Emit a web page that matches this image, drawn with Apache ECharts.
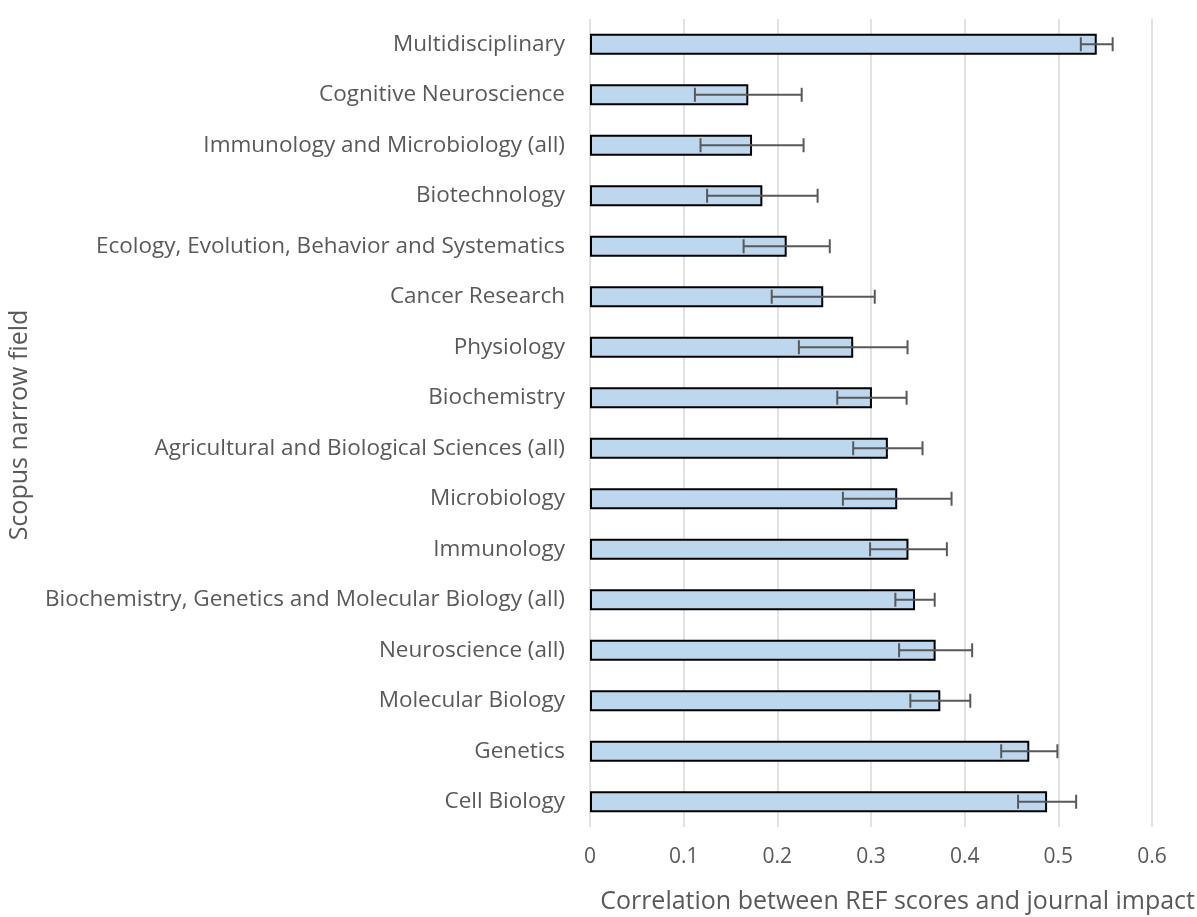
<!DOCTYPE html>
<html><head><meta charset="utf-8">
<script src="https://cdn.jsdelivr.net/npm/echarts@6/dist/echarts.min.js"></script>
<style>html,body{margin:0;padding:0;background:#fff}#c{width:1197px;height:917px}</style>
</head><body><div id="c"></div>
<script>
const categories = ["Multidisciplinary","Cognitive Neuroscience","Immunology and Microbiology (all)","Biotechnology","Ecology, Evolution, Behavior and Systematics","Cancer Research","Physiology","Biochemistry","Agricultural and Biological Sciences (all)","Microbiology","Immunology","Biochemistry, Genetics and Molecular Biology (all)","Neuroscience (all)","Molecular Biology","Genetics","Cell Biology"];
const correlations = [0.541,0.169,0.173,0.184,0.210,0.249,0.281,0.301,0.318,0.328,0.340,0.347,0.369,0.374,0.469,0.488];
const errors = [0.017,0.057,0.055,0.059,0.046,0.055,0.058,0.037,0.037,0.058,0.041,0.021,0.039,0.032,0.030,0.031];
const xTicks = [0,0.1,0.2,0.3,0.4,0.5,0.6];
const xTitle = "Correlation between REF scores and journal impact";
const yTitle = "Scopus narrow field";

const FONT = "'Open Sans'";
const chart = echarts.init(document.getElementById('c'), null, {renderer:'canvas'});
const errData = categories.map((c,i)=>[i, correlations[i]-errors[i], correlations[i]+errors[i]]);
chart.setOption({
  animation:false,
  grid:{left:590,right:45,top:19,bottom:90},
  xAxis:{type:'value',min:xTicks[0],max:xTicks[xTicks.length-1],interval:0.1,
    axisLine:{show:false},axisTick:{show:false},
    splitLine:{lineStyle:{color:'#d9d9d9',width:1.5}},
    axisLabel:{color:'#595959',fontSize:21,fontFamily:FONT,margin:20,
      formatter:v=>String(Math.round(v*10)/10)}},
  yAxis:{type:'category',data:categories,inverse:true,
    axisLine:{show:false},axisTick:{show:false},
    axisLabel:{color:'#595959',fontSize:22.5,fontFamily:FONT,margin:25}},
  series:[
    {type:'bar',data:correlations,barWidth:21,
     itemStyle:{color:'#bdd7ee',borderColor:'#000',borderWidth:2}},
    {type:'custom',data:errData,z:10,
     renderItem:function(params,api){
       const y=api.value(0);
       const p1=api.coord([api.value(1),y]);
       const p2=api.coord([api.value(2),y]);
       const h=7;
       const st={stroke:'#595959',lineWidth:2};
       return {type:'group',children:[
         {type:'line',shape:{x1:p1[0],y1:p1[1],x2:p2[0],y2:p2[1]},style:st},
         {type:'line',shape:{x1:p1[0],y1:p1[1]-h,x2:p1[0],y2:p1[1]+h},style:st},
         {type:'line',shape:{x1:p2[0],y1:p2[1]-h,x2:p2[0],y2:p2[1]+h},style:st}
       ]};
     },
     encode:{y:0,x:[1,2]}}
  ],
  graphic:[
    {type:'text',x:1195,y:902,style:{text:xTitle,fill:'#595959',font:'25px '+FONT,align:'right',verticalAlign:'middle'}},
    {type:'text',x:20,y:425,rotation:Math.PI/2,
     style:{text:yTitle,fill:'#595959',font:'25px '+FONT,align:'center',verticalAlign:'middle'}}
  ]
});
</script></body></html>
